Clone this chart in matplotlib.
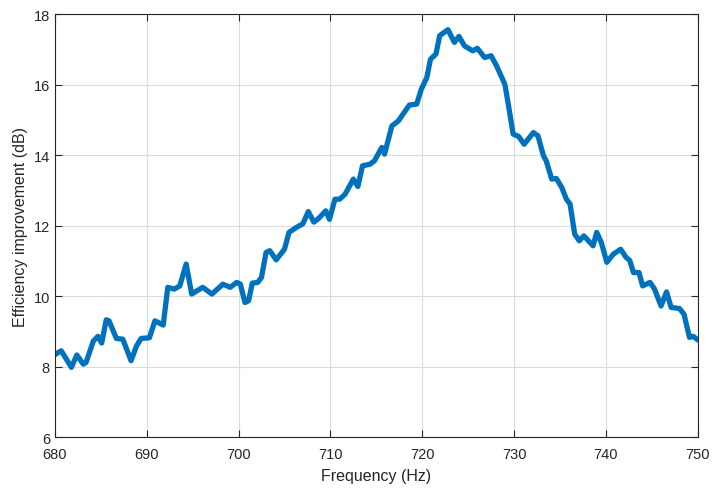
import matplotlib
matplotlib.use("Agg")
from matplotlib import pyplot as plt

# values
freq = [679.8, 680.7, 681.8, 682.4, 683.1, 683.4, 684.2, 684.7, 685.1, 685.6,
        685.9, 686.7, 687.4, 688.3, 688.9, 689.4, 690.3, 690.9, 691.8, 692.3,
        693.0, 693.6, 694.3, 694.9, 696.1, 697.1, 698.3, 699.1, 699.8, 700.2,
        700.7, 701.1, 701.5, 702.1, 702.5, 703.0, 703.4, 704.1, 705.0, 705.5,
        706.3, 707.0, 707.6, 708.2, 708.7, 709.5, 709.9, 710.5, 711.0, 711.6,
        712.5, 713.0, 713.5, 714.3, 714.8, 715.6, 715.9, 716.7, 717.4, 717.9,
        718.6, 719.4, 719.9, 720.5, 720.9, 721.5, 721.9, 722.8, 723.5, 724.0,
        724.6, 725.5, 726.0, 726.8, 727.5, 728.1, 729.0, 729.4, 729.9, 730.5,
        731.1, 732.1, 732.6, 733.2, 733.5, 734.1, 734.6, 735.2, 735.7, 736.1,
        736.6, 737.1, 737.6, 738.6, 739.0, 739.5, 740.1, 740.8, 741.6, 742.2,
        742.6, 743.0, 743.6, 744.0, 744.8, 745.3, 746.0, 746.6, 747.1, 748.0,
        748.5, 749.1, 749.5, 750.0]
gain = [8.31, 8.45, 7.98, 8.33, 8.07, 8.12, 8.73, 8.86, 8.67, 9.33,
        9.30, 8.80, 8.78, 8.17, 8.59, 8.80, 8.82, 9.30, 9.18, 10.25,
        10.20, 10.29, 10.91, 10.06, 10.25, 10.06, 10.34, 10.25, 10.39, 10.34,
        9.82, 9.87, 10.37, 10.39, 10.53, 11.24, 11.29, 11.03, 11.33, 11.81,
        11.95, 12.05, 12.40, 12.10, 12.20, 12.42, 12.18, 12.75, 12.75, 12.89,
        13.32, 13.11, 13.70, 13.74, 13.84, 14.22, 14.03, 14.83, 14.97, 15.16,
        15.42, 15.45, 15.87, 16.20, 16.72, 16.87, 17.39, 17.56, 17.20, 17.37,
        17.10, 16.96, 17.03, 16.77, 16.82, 16.53, 16.01, 15.40, 14.60, 14.53,
        14.31, 14.64, 14.55, 13.98, 13.84, 13.32, 13.34, 13.08, 12.75, 12.61,
        11.76, 11.57, 11.71, 11.43, 11.81, 11.52, 10.96, 11.19, 11.33, 11.10,
        11.01, 10.67, 10.67, 10.29, 10.39, 10.20, 9.72, 10.12, 9.68, 9.65,
        9.49, 8.83, 8.86, 8.76]

xticks = [680, 690, 700, 710, 720, 730, 740, 750]
yticks = [6, 8, 10, 12, 14, 16, 18]

plt.rcParams['font.family'] = ['Liberation Sans', 'DejaVu Sans']

fig = plt.figure(figsize=(7.12, 4.89), dpi=100)
ax = fig.add_axes([0.077, 0.104, 0.903, 0.865])

ax.plot(freq, gain, color='#0072BD', linewidth=3.8, solid_joinstyle='round',
        solid_capstyle='round')

ax.set_xlim(680, 750)
ax.set_ylim(6, 18)
ax.set_xticks(xticks)
ax.set_yticks(yticks)
ax.grid(True, color='#dcdcdc', linewidth=0.8)
ax.set_axisbelow(True)
ax.tick_params(direction='in', top=True, right=True, length=5,
               labelsize=10.5, colors='#262626', width=0.8)
ax.tick_params(axis='x', pad=7)
for s in ax.spines.values():
    s.set_color('#262626')
    s.set_linewidth(0.8)

ax.set_xlabel('Frequency (Hz)', fontsize=11.5, color='#262626', labelpad=5)
ax.set_ylabel('Efficiency improvement (dB)', fontsize=11.5, color='#262626', labelpad=4)

fig.savefig('out.png', dpi=100)
